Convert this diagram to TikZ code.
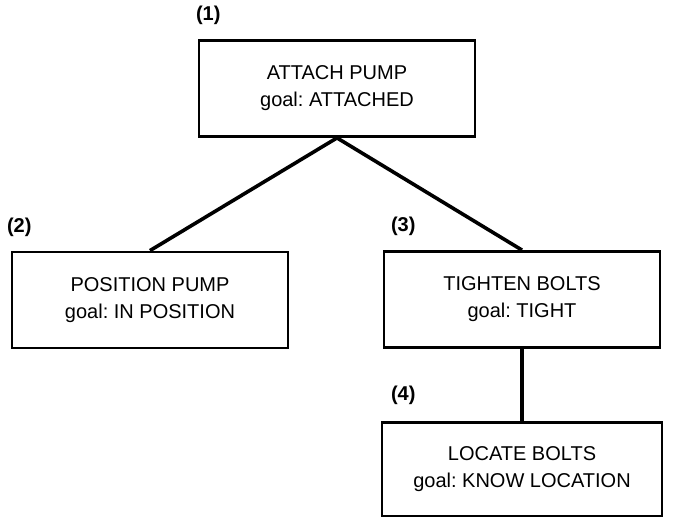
\documentclass[tikz,border=0pt]{standalone}
\usepackage{fontspec}
\setmainfont{Liberation Sans}
\usetikzlibrary{positioning}
\frenchspacing

\begin{document}
\begin{tikzpicture}[x=0.5pt, y=-0.5pt, font=\fontsize{10}{13.5}\selectfont,
	goalbox/.style={draw, line width=1.4pt, inner sep=0pt, align=center, minimum width=138pt, minimum height=48pt},
	tag/.style={font=\fontsize{10}{12}\selectfont\bfseries, inner sep=0pt},
	link/.style={line width=1.8pt}]
	\useasboundingbox (0,0) rectangle (675,517);

	% boxes of the goal tree
	\node[goalbox]	(attach)	at (337,88.5)	{ATTACH PUMP\\goal: ATTACHED};
	\node[goalbox]	(position)	at (150,300)	{POSITION PUMP\\goal: IN POSITION};
	\node[goalbox]	(tighten)	at (522,299.5)	{TIGHTEN BOLTS\\goal: TIGHT};
	\node[goalbox, minimum width=140pt, minimum height=47pt]	(locate)	at (522,469.5)	{LOCATE BOLTS\\goal: KNOW LOCATION};

	% numbers
	\node[tag, above right=7pt and -1pt of attach.north west]	(n1)	{(1)};
	\node[tag, above right=7pt and -2pt of position.north west]	(n2)	{(2)};
	\node[tag, above right=7pt and 4pt of tighten.north west]	(n3)	{(3)};
	\node[tag, above right=8pt and 5pt of locate.north west]	(n4)	{(4)};

	\draw[link]	(attach.south) -- (position.north);
	\draw[link]	(attach.south) -- (tighten.north);
	\draw[link]	(tighten.south) -- (locate.north);
\end{tikzpicture}
\end{document}
